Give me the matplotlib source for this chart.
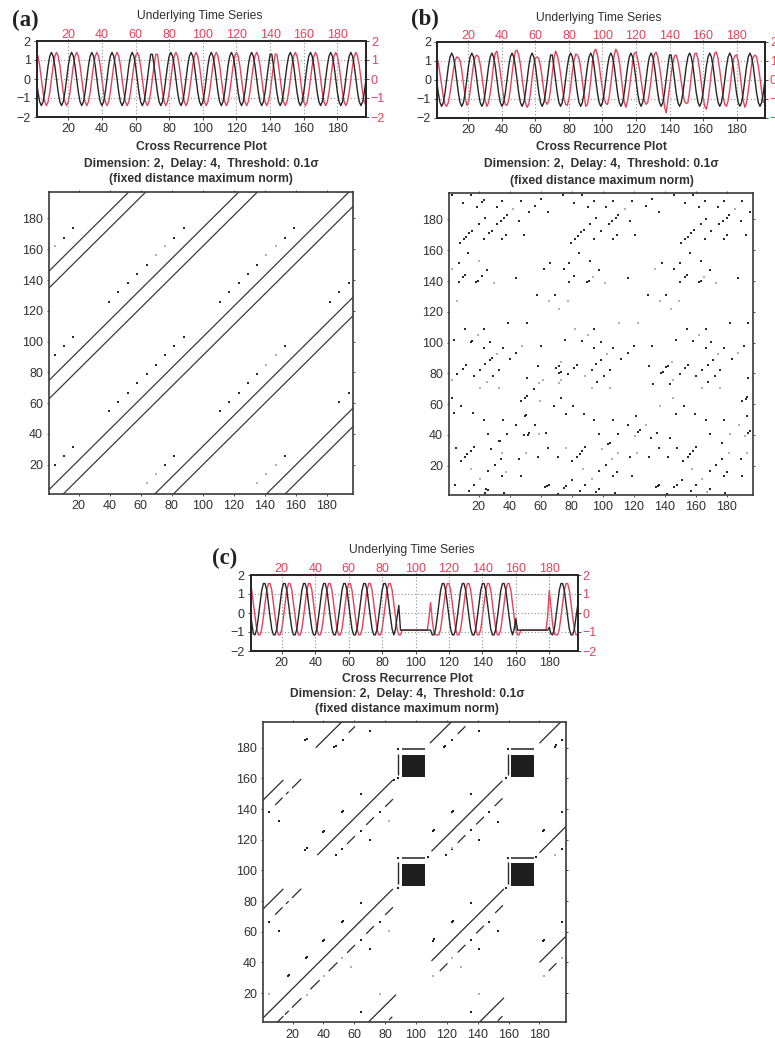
import matplotlib
matplotlib.use("Agg")
import matplotlib.pyplot as plt
import numpy as np

plt.rcParams['font.family'] = ['Liberation Sans', 'DejaVu Sans']

W, H = 775, 1038
TXT = '#303030'
RED = '#e8405a'
DARK = '#2a2a2a'
LIGHT = '#b0b0b0'

# ---------------- time series ----------------
black_ab = [0,-.7,-1.2,
 -1.4,-1.2,-.7,0,.7,1.2,1.4,1.2,.7,0,-.7,-1.2,
 -1.4,-1.2,-.7,0,.7,1.2,1.4,1.2,.7,0,-.7,-1.2,
 -1.4,-1.2,-.7,0,.7,1.2,1.4,1.2,.7,0,-.7,-1.2,
 -1.4,-1.2,-.7,0,.7,1.2,1.4,1.2,.7,0,-.7,-1.2,
 -1.4,-1.2,-.7,0,.7,1.2,1.4,1.2,.7,0,-.7,-1.2,
 -1.4,-1.2,-.7,0,.7,1.3,1.3,.7,0,-.7,-1.2,
 -1.4,-1.2,-.7,0,.7,1.2,1.4,1.2,.7,0,-.7,-1.2,
 -1.4,-1.2,-.7,0,.7,1.2,1.4,1.2,.7,0,-.7,-1.2,
 -1.4,-1.2,-.7,0,.7,1.2,1.4,1.2,.7,0,-.7,-1.2,
 -1.4,-1.2,-.7,0,.7,1.2,1.4,1.2,.7,0,-.7,-1.2,
 -1.4,-1.2,-.7,0,.7,1.2,1.4,1.2,.7,0,-.7,-1.2,
 -1.4,-1.2,-.7,0,.7,1.3,1.3,.7,0,-.7,-1.2,
 -1.4,-1.2,-.7,0,.7,1.2,1.4,1.2,.7,0,-.7,-1.2,
 -1.4,-1.2,-.7,0,.7,1.2,1.4,1.2,.7,0,-.7,-1.2,
 -1.4,-1.2,-.7,0,.7,1.2,1.4,1.2,.7,0,-.7,-1.2,
 -1.4,-1.2,-.7,0,.7,1.2,1.4,1.2,.7,0,-.7,-1.2,
 -1.4,-1.2,-.7,0]

red_a = [1.4,1.2,.7,0,-.7,-1.2,
 -1.4,-1.2,-.7,0,.7,1.2,1.4,1.2,.7,0,-.7,-1.2,
 -1.4,-1.2,-.7,0,.7,1.2,1.4,1.2,.7,0,-.7,-1.2,
 -1.4,-1.2,-.7,0,.7,1.2,1.4,1.2,.7,0,-.7,-1.2,
 -1.4,-1.2,-.7,0,.7,1.2,1.4,1.2,.7,0,-.7,-1.2,
 -1.4,-1.2,-.7,0,.7,1.2,1.4,1.2,.7,0,-.7,-1.2,
 -1.4,-1.2,-.7,0,.7,1.3,1.3,.7,0,-.7,-1.2,
 -1.4,-1.2,-.7,0,.7,1.2,1.4,1.2,.7,0,-.7,-1.2,
 -1.4,-1.2,-.7,0,.7,1.2,1.4,1.2,.7,0,-.7,-1.2,
 -1.4,-1.2,-.7,0,.7,1.2,1.4,1.2,.7,0,-.7,-1.2,
 -1.4,-1.2,-.7,0,.7,1.2,1.4,1.2,.7,0,-.7,-1.2,
 -1.4,-1.2,-.7,0,.7,1.2,1.4,1.2,.7,0,-.7,-1.2,
 -1.4,-1.2,-.7,0,.7,1.3,1.3,.7,0,-.7,-1.2,
 -1.4,-1.2,-.7,0,.7,1.2,1.4,1.2,.7,0,-.7,-1.2,
 -1.4,-1.2,-.7,0,.7,1.2,1.4,1.2,.7,0,-.7,-1.2,
 -1.4,-1.2,-.7,0,.7,1.2,1.4,1.2,.7,0,-.7,-1.2,
 -1.4,-1.2,-.7,0,.7,1.2,1.4,1.2,.7,0,-.7,-1.2,
 -1.4]

red_b = [1.2,.9,.3,-.3,-.9,-1.3,-1.4,-1.2,-.7,-.1,.5,1.0,1.2,1.15,1.0,.5,-.2,-.9,-1.35,-1.2,
 -.6,.1,.8,1.2,1.3,1.2,.8,.2,-.5,-1.1,-1.4,-1.2,-.7,0,.8,1.4,1.5,1.0,.4,-.3,
 -.9,-1.3,-1.35,-1.1,-.5,.3,1.0,1.5,1.55,1.3,.8,.1,-.6,-1.2,-1.45,-1.3,-.7,.1,.8,1.15,
 1.2,1.1,.7,.1,-.6,-1.15,-1.3,-1.1,-.5,.3,1.1,1.5,1.3,.9,.3,-.4,-1.0,-1.3,-1.35,-1.0,
 -.4,.4,1.0,1.35,1.3,1.1,.6,-.1,-.8,-1.4,-1.3,-.8,0,.9,1.5,1.6,1.3,.8,.1,-.5,
 -1.0,-1.25,-1.3,-.9,-.2,.6,1.3,1.6,1.4,1.0,.3,-.5,-1.2,-1.45,-1.1,-.5,.2,.9,1.4,1.45,
 1.1,.6,0,-.6,-1.1,-1.3,-1.2,-.7,0,.8,1.35,1.45,1.2,.7,.1,-.7,-1.4,-1.75,-1.1,-.4,
 .3,.9,1.25,1.3,1.0,.5,-.1,-.7,-1.15,-1.25,-1.2,-.6,.2,.9,1.35,1.4,1.1,.5,-.2,-.9,
 -1.4,-1.55,-1.1,-.4,.4,1.0,1.4,1.45,1.1,.5,-.2,-.9,-1.3,-1.4,-1.1,-.5,.3,1.0,1.25,1.3,
 1.0,.4,-.4,-1.1,-1.45,-1.2,-.6,.1,.8,1.2,1.3,1.2,.7,.1,-.6,-1.2,-1.0]

black_c = [.3,-.5,-1.1,
 -1.15,-.85,-.2,.5,1.2,1.55,1.55,1.2,.5,-.2,-.85,-1.15,
 -1.15,-.85,-.2,.5,1.2,1.55,1.55,1.2,.5,-.2,-.85,-1.15,
 -1.15,-.85,-.2,.5,1.2,1.55,1.55,1.2,.5,-.2,-.85,-1.15,
 -1.15,-.85,-.2,.5,1.2,1.55,1.55,1.2,.5,-.2,-.85,-1.15,
 -1.15,-.85,-.2,.5,1.2,1.55,1.55,1.2,.5,-.2,-.85,-1.15,
 -1.15,-.85,-.2,.5,1.2,1.55,1.55,1.2,.5,-.2,-.85,-1.15,
 -1.15,-.85,-.2,.5,1.2,1.55,1.55,1.2,.5,-.2,-.85,-1.15,
 -.85,-.2,.4,-.9,
 -.9,-.9,-.9,-.9,-.9,-.9,-.9,-.9,-.9,-.9,-.9,-.9,-.9,-.9,-.9,-.9,-.9,-.9,
 -1.15,
 -1.15,-.85,-.2,.5,1.2,1.55,1.55,1.2,.5,-.2,-.85,-1.15,
 -1.15,-.85,-.2,.5,1.2,1.55,1.55,1.2,.5,-.2,-.85,-1.15,
 -1.15,-.85,-.2,.5,1.2,1.55,1.55,1.2,.5,-.2,-.85,-1.15,
 -1.15,-.85,-.2,.5,1.2,1.55,1.55,1.2,.5,-.2,-.85,-1.15,
 -.85,-.3,-.9,
 -.9,-.9,-.9,-.9,-.9,-.9,-.9,-.9,-.9,-.9,-.9,-.9,-.9,-.9,-.9,-.9,-.9,
 -.9,-.75,-1.1,
 -1.15,-.85,-.2,.5,1.2,1.55,1.55,1.2,.5,-.2,-.85,-1.15,
 -1.15,-.85,-.2,.4]

red_c = [1.55,1.2,.5,-.2,-.85,-1.15,
 -1.15,-.85,-.2,.5,1.2,1.55,1.55,1.2,.5,-.2,-.85,-1.15,
 -1.15,-.85,-.2,.5,1.2,1.55,1.55,1.2,.5,-.2,-.85,-1.15,
 -1.15,-.85,-.2,.5,1.2,1.55,1.55,1.2,.5,-.2,-.85,-1.15,
 -1.15,-.85,-.2,.5,1.2,1.55,1.55,1.2,.5,-.2,-.85,-1.15,
 -1.15,-.85,-.2,.5,1.2,1.55,1.55,1.2,.5,-.2,-.85,-1.15,
 -1.15,-.85,-.2,.5,1.2,1.55,1.55,1.2,.5,-.2,-.85,-1.15,
 -1.15,-.85,-.2,.5,1.2,1.55,1.55,1.2,.5,-.2,-.85,-1.15,
 -1.15,
 -.9,-.9,-.9,-.9,-.9,-.9,-.9,-.9,-.9,-.9,-.9,-.9,-.9,-.9,-.9,-.9,
 -.3,.55,-.4,-1.0,-1.15,-1.15,
 -1.15,-.85,-.2,.5,1.2,1.55,1.55,1.2,.5,-.2,-.85,-1.15,
 -1.15,-.85,-.2,.5,1.2,1.55,1.55,1.2,.5,-.2,-.85,-1.15,
 -1.15,-.85,-.2,.5,1.2,1.55,1.55,1.2,.5,-.2,-.85,-1.15,
 -1.15,-.85,-.2,.5,1.2,1.55,1.55,1.2,.5,-.2,-.85,-1.15,
 -1.15,
 -.9,-.9,-.9,-.9,-.9,-.9,-.9,-.9,-.9,-.9,-.9,-.9,-.9,-.9,-.9,-.9,
 -.2,1.2,.3,-.6,-1.1,-1.15,
 -1.15,-.85,-.2,.5,1.2,1.55,1.55,1.2,.5,-.2,-.85,-1.15,
 -1.15]

time_index = list(range(1, 198))
x_ticks = [20, 40, 60, 80, 100, 120, 140, 160, 180]
ts_y_ticks = [-2, -1, 0, 1, 2]

# ---------------- recurrence plot (a) ----------------
a_offsets = [145, 134, 74, 62, 3, -9, -68, -80, -140, -152]
a_dots = [(10.5,167.6),(16.6,173.7),(39.6,126),(45.6,132),(51.6,138),(57.6,144),(63.7,150),
 (81.7,167.6),(87.7,173.7),(111,126),(117,132),(123,138),(129,144),(135,150),(153,167.6),(159,173.7),
 (182,126),(188,132),(194,138),(4.5,91),(10.5,97),(16.6,103),(39.6,54.7),(45.6,60.7),(51.6,66.8),
 (57.6,72.8),(63.7,78.8),(69.7,84.9),(75.7,91),(81.7,97),(87.7,103),(111,54.7),(117,60.7),(123,66.8),
 (129,72.8),(135,78.8),(153,97),(188,60.7),(194,66.8),(4.5,20),(10.5,25.6),(16.6,31.6),(75.7,20),
 (81.7,25.6),(153,25.6)]
a_faint = [(4.5,162),(69.7,156),(75.7,162),(141,156),(147,162),(141,84.9),(147,91),(63.7,8),(69.7,14),
 (135,8),(141,14),(147,20)]

# ---------------- recurrence plot (b) ----------------
b_dots = [(9.8,191),(19.1,188.2),(22.2,191.4),(23.2,192.5),(31.5,188.2),(35.2,192),(47.3,192),(52.5,185),
 (56.5,189),(60,193),(64.6,185),(81.7,191),(90.6,188),(94.3,192),(102.3,188),(106.6,192),(114,187),
 (118.8,192),(127.8,189),(132,193),(136,185),(153,191),(162,188),(165.7,192),(174,188),(178,192),
 (185,187),(190,192),(195,185),
 (8.1,165),(10.3,167.2),(11.8,168.6),(14,171),(15.7,172.7),(20,177),(24.3,181),(23.2,167),(26.8,171.5),
 (28.3,172.5),(32,177),(34.3,178.8),(36.5,181),(38,183),(35.2,167.6),(37.3,170),(46.2,179),(49.2,170),
 (79.7,165),(82.3,167.6),(84,169.3),(86.2,172),(87.7,173),(91.7,177),(95.8,181),(94.3,167.6),(98.6,172.5),
 (104,177),(106,179),(108.3,181),(109.8,183),(106.6,167.6),(108.8,170),(117.6,179),(120.9,170),
 (150.5,164.4),(152.7,167),(154.8,168.7),(157,171.3),(158.7,173),(163,177),(166.7,180.5),(165.7,167.6),
 (170,172.5),(175,177),(177.6,179),(180,181),(181.2,183),(178,167.6),(180.2,170),(188.9,179),(192.3,170),
 (7,152),(13,158),(7,139.5),(10,142.5),(10.8,143.7),(25.6,147),(21.8,143),(18.5,139.3),(19.6,140),(44,142),
 (57.5,131),(69.3,131),(62.2,148),(66,152),(74.8,148),(78.2,152),(84.5,158),(91.7,153),(78,139.5),
 (81.7,143),(90,139.3),(91,140),(97.5,147),(116,142),(129,131),(141,131),(138,152),(145.7,148),(150,152),
 (156,158),(163,153),(150,139.5),(153,142.7),(154,143.7),(162,139.3),(163,140),(169,147),(187,142),
 (39,112.5),(51.4,112.5),(11,108.8),(23.2,108.8),(4,101.6),(14.8,100.3),(15.7,101),(23.2,96.6),(27.2,100.5),
 (35.5,96.6),(44,93.4),(40,89.5),(60,98),(6,79.9),(9.8,83),(12,85.3),(17,78.6),(20.6,82),(24.3,85.8),
 (27.2,88.7),(28.3,89.8),(29.3,78.4),(33,82),(51,77),(55.3,69.6),(50,64),(51,65),(47.3,62),(58.5,84.7),
 (72,80),(73,81),(70,83.5),(71.5,84.7),(77.4,79.5),(81.7,83.6),(83.4,85.7),(92.7,82),(95.7,85.8),(99,88.7),
 (96.4,74.6),(100.7,78.4),(104.7,82),(75.8,101.6),(94.3,108.8),(86.7,101),(94.3,96.6),(98.6,100.5),
 (106.6,96.6),(116,93.4),(111.6,89.5),(119.8,98),(132,98),(130,84.7),(132.2,73.4),(137.5,80),(138.6,81),
 (140.8,84),(142,85),(143,73.4),(149.5,79.5),(153,83.2),(155.2,85.7),(160,78.4),(164.2,82),(167.8,85.7),
 (170.7,89),(167.8,74.6),(172.2,78.4),(175.8,82),(146.9,101.6),(154.2,108.8),(166.3,108.8),(158,101),
 (166.3,96.6),(170,100.5),(178,96.6),(183,89.5),(182,112.5),(193.8,112.5),(191,98),(193.8,77.3),
 (2.7,63.7),(4,54),(8.7,58.7),(16,54),(23.2,50),(35.5,50),(44,46.4),(56.5,46.4),(49.5,52.2),(50.5,52.8),
 (52.5,41),(51.5,40.2),(49,40),(26,40.6),(38,40.6),(63.5,41.6),(73.3,63.7),(68.3,58.7),(80.6,58.7),
 (76,53.6),(87.7,53.6),(94.3,50),(106.6,50),(97.5,40.6),(103.5,34.2),(104.4,34.8),(116,46.4),(121.3,52.2),
 (109.8,40.6),(122.6,41.8),(124,43),(131,37.8),(134.7,41.6),(152,58.7),(146.9,53.6),(159.6,53.6),
 (166.3,50),(178,50),(169,40.6),(176.5,34.8),(193,52),(192,63.5),(193,64.6),(189.5,62),(143,37.8),
 (193.5,41.5),(194.7,42.5),
 (5,31.8),(8.3,23),(10.9,25.8),(12.6,27.6),(14.9,29.7),(17,31.9),(27.8,30.6),(34.3,24.3),(32.8,35.8),
 (33.6,36.4),(30.4,20.4),(26,16.8),(35.2,13.5),(4.9,7.4),(17,7.4),(13.5,3.8),(24.6,4.6),(26,4.2),(24,2.5),
 (36.2,2.5),(46.2,24.3),(47.3,13.5),(58.5,25.8),(64.6,31.8),(70.8,25.8),(80.2,23),(83.4,25.8),(85,27.6),
 (86.7,29.7),(88.5,31.9),(97.5,16.8),(101.8,20.4),(106.6,13.5),(109,15.7),(117.6,25.8),(118.8,13.5),
 (130,25.8),(136,31.8),(142,25.8),(148,31.8),(151.6,23),(155,25.8),(156.4,27.6),(158,29.7),(160,31.9),
 (169,16.8),(172.8,20.4),(177,24.3),(178,13.5),(180,15.7),(189,24.3),(190,13.5),
 (63,6),(64,6.8),(65,7.6),(75,5.4),(76.5,6.8),(80,10.7),(85.3,3.7),(88.8,7.4),(95.4,2.7),(97.5,4.6),(70.8,1.6),
 (107.6,2.5),(134.5,6),(135.3,6.8),(136,7.6),(146,5.9),(147.7,7.3),(151.1,10.7),(156.6,3.8),(160.3,7.4),
 (169,4.6),(179,2.5),(141.2,1.6),(3,196),(15,196),(74.6,196),(86.6,196),(146,196),(158,196)]
b_faint = [(42.3,187),(114,187),(185,187),(2.7,148),(20,153),(30,139),(6,127),(65.5,127),(77.4,127),(72,121.7),
 (93.6,142.7),(101.4,139),(137,127),(149,127),(144,121.7),(133.8,148),(165,142.7),(172.8,139),
 (19.2,104.7),(31.5,92.5),(48,98),(25,74.6),(21,70.6),(33,70.6),(2.7,75.6),(61.3,75.6),(59,74),(73,87.5),
 (71.5,74),(73,75.6),(88.4,78.4),(92.7,70.6),(104.8,70.6),(82.3,108.8),(90.6,104.8),(102.5,92.5),
 (110.6,112.5),(122.8,112.5),(145,75.6),(144.7,87.5),(164.2,70.6),(175.8,70.6),(162,104.8),(174,92.5),
 (187,93.4),(59,40.5),(59.6,62),(127.8,46.4),(120.7,39.5),(136.9,58.7),(145,63.7),(182,40.6),(187.5,46.4),
 (191.7,39.5),(35.2,28.4),(37.3,15.7),(14.8,17.6),(20.6,11.3),(50.3,28.4),(76.5,31.8),(99.6,30.6),
 (87.2,17.6),(105.7,24.3),(109.8,28.4),(122,28.4),(157.7,17.6),(164,11.3),(181.5,28.4),(193,28.4),
 (93.2,11.3),(167.2,3.1)]

# ---------------- recurrence plot (c) ----------------
c_seg_offset = [3, 74, 145, 74, 145, -68, -69, 2.5, 74, -140, 3, -68.5, -140,
 -9, -9, -9, -9, -9, -9, -9, -9, 62.5, 62.5, 62.5, 134, 134, 134, 133.5, 62, 62, 61.5,
 -81, -80.5, -80, -79, -9, -9, -9, 62, -151.5, -80, -151]
c_seg_start = [1, 36, 1, 1, 35, 69, 110, 110, 109, 141, 180, 180, 180,
 10, 15, 19.6, 31.5, 43.4, 55.3, 67.7, 80, 8.7, 15.7, 19.6, 8.7, 15.7, 19.6, 56.4, 55.3, 67.7, 80,
 115.4, 127, 139, 151.3, 127, 139, 151, 127, 186, 82.5, 153]
c_seg_end = [85, 85, 14, 14, 52, 87, 157, 156, 124, 157, 197, 197, 197,
 14, 17.5, 25.7, 37.5, 49, 60.4, 72.7, 85, 13.5, 17.4, 25.6, 13.5, 17.4, 25.6, 60.4, 60.4, 72.7, 85,
 120.4, 132, 144, 156.3, 132, 144, 156, 132, 191, 84.6, 156]
c_dots = [(16.7,31.3),(17.5,32),(29.3,43.4),(28.6,42.8),(40.6,54.7),(40,54),(52.5,67.3),(52,66.6),(64,79),(64,54.7),(70,48.6),
 (76.4,66.7),(5,66.7),(11,60.7),(64,7.6),(5,138),(11,132),(29,186),(28.2,185.2),(52.5,185),(47,180.5),(48,181.3),(70,191),
 (29,114.4),(28.2,113.6),(40.6,126),(40,125.4),(52.5,138.7),(51.8,138),(64,150),(64,126),(70,120),(48.4,110),(52,114),(76.4,138.3),
 (111.7,55),(111,54.3),(123.7,67.3),(123,66.6),(135.6,79),(147.5,66.7),(153.4,60.8),(135.6,54.7),(141,48.6),
 (111.7,126.4),(111,125.7),(123.7,138.7),(123,138),(135.6,150),(147.5,138),(153.4,131.7),(135.6,126.4),(141,120),
 (119.7,110),(123,114),(118.3,180.6),(119,181.3),(123,185),(141,191),(182.7,126.4),(182,125.7),(194.6,138),(194.6,113.8),
 (194.6,185),(190,180.8),(190.7,181.5),(182.7,54.7),(182,54),(194.6,66.7),(135.6,7.6),
 (88,88.5),(88,160.5),(85.5,159),(158.5,160),(158.5,88.5),(88,179),(159.5,179),(88,108.3),(159.5,108.3),(108,108.5),(178,108.5)]
c_faint = [(5,19.3),(29,19),(40.6,31),(52,43),(58,37),(82.5,60.8),(76.4,19.3),(82.5,132),(111,31),(123,43),(129,37),
 (182.7,31),(194.6,43),(141,19.3),(190,110),(123,114.5)]

square_x = [91, 161.6, 91, 161.6]
square_y = [161, 161, 90, 90]
square_side = [14.5, 14.6, 14.5, 14.6]
c_vbar_x = [88.4, 159.5, 88.4, 159.5]
c_vbar_y0 = [162, 162, 91, 91]
c_vbar_y1 = [176, 176, 105.5, 105.5]
c_hbar_x0 = [91, 161.6, 91, 161.6]
c_hbar_x1 = [105.6, 176.2, 105.6, 176.2]
c_hbar_y = [179, 179, 108.3, 108.3]


def ax_px(x0, y0, x1, y1):
    return fig.add_axes([x0 / W, 1 - y1 / H, (x1 - x0) / W, (y1 - y0) / H])


def draw_ts(box, black, red, cx_title, y_title):
    ax = ax_px(*box)
    ax.plot(time_index, black, color='#262626', lw=1.0, zorder=3)
    ax.set_xlim(1.4, 197)
    ax.set_ylim(-2, 2)
    ax.set_xticks(x_ticks)
    ax.set_yticks(ts_y_ticks)
    ax.set_yticklabels(['\u22122', '\u22121', '0', '1', '2'])
    ax.grid(True, ls=(0, (1, 2)), color='#8f8f8f', lw=0.8)
    ax.tick_params(labelsize=9, length=2, width=0.6, pad=2.5, labelcolor=TXT, color=TXT)
    ax2 = ax.twinx()
    ax3 = ax2.twiny()
    ax3.plot(time_index, red, color=RED, lw=1.0, zorder=2)
    ax3.set_xlim(1.4, 197)
    ax3.set_ylim(-2, 2)
    ax3.set_xticks(x_ticks)
    ax3.tick_params(labelsize=9, length=1.5, width=0.6, pad=-1.5, labelcolor=RED, color=TXT)
    ax2.set_ylim(-2, 2)
    ax2.set_yticks(ts_y_ticks)
    ax2.set_yticklabels(['\u22122', '\u22121', '0', '1', '2'])
    ax2.tick_params(labelsize=9, length=2, width=0.6, pad=1.5, labelcolor=RED, color=TXT)
    ax.set_zorder(5)
    ax.patch.set_visible(False)
    for a in (ax, ax2, ax3):
        for s in a.spines.values():
            s.set_linewidth(1.2)
            s.set_color('#262626')
    fig.text(cx_title / W, 1 - y_title / H, 'Underlying Time Series', ha='center', va='center',
             fontsize=8.7, color=TXT)


def draw_titles(cx, y1, y2, y3):
    fig.text(cx / W, 1 - y1 / H, 'Cross Recurrence Plot', ha='center', va='center',
             fontsize=8.7, fontweight='bold', color=TXT)
    fig.text(cx / W, 1 - y2 / H, 'Dimension: 2,  Delay: 4,  Threshold: 0.1\u03c3', ha='center', va='center',
             fontsize=8.7, fontweight='bold', color=TXT)
    fig.text(cx / W, 1 - y3 / H, '(fixed distance maximum norm)', ha='center', va='center',
             fontsize=8.7, fontweight='bold', color=TXT)


def crp_axes(box):
    ax = ax_px(*box)
    ax.set_xlim(1, 197)
    ax.set_ylim(1, 197)
    ax.set_xticks(x_ticks)
    ax.set_yticks(x_ticks)
    ax.tick_params(labelsize=9, length=1.5, width=0.6, pad=3, labelcolor=TXT, color=TXT,
                   top=True, right=True)
    for s in ax.spines.values():
        s.set_linewidth(1.2)
        s.set_color('#3a3a3a')
    return ax


def draw_dots(ax, dots, color, ms=1.5):
    ax.plot([p[0] for p in dots], [p[1] for p in dots], ls='none', marker='s', ms=ms,
            mew=0, color=color, zorder=2)


fig = plt.figure(figsize=(W / 100, H / 100), dpi=100)

# (a)
draw_ts((37, 41, 366, 117), black_ab, red_a, 199.5, 16)
draw_titles(201, 147, 164, 179)
ax = crp_axes((49.3, 192.3, 353.3, 494))
for k in a_offsets:
    ax.plot([1, 197], [1 + k, 197 + k], color='#3a3a3a', lw=0.9)
draw_dots(ax, a_dots, DARK)
draw_dots(ax, a_faint, LIGHT)

# (b)
draw_ts((437.3, 41.7, 765, 117.7), black_ab, red_b, 599, 18)
draw_titles(601.7, 147, 164, 181)
ax = crp_axes((449.3, 193.3, 753.3, 495))
draw_dots(ax, b_dots, DARK, ms=1.9)
draw_dots(ax, b_faint, LIGHT, ms=1.7)

# (c)
draw_ts((250.7, 575, 577.7, 651), black_c, red_c, 412, 550)
draw_titles(407, 679, 694, 709)
ax = crp_axes((263.3, 721.7, 565.7, 1022.3))
for k, s, e in zip(c_seg_offset, c_seg_start, c_seg_end):
    ax.plot([s, e], [s + k, e + k], color='#2a2a2a', lw=0.9, solid_capstyle='butt')
draw_dots(ax, c_dots, '#222222', ms=1.7)
draw_dots(ax, c_faint, LIGHT, ms=1.6)
ax.bar(square_x, square_side, width=square_side, bottom=square_y, align='edge', color='#1f1f1f', lw=0)
ax.vlines(c_vbar_x, c_vbar_y0, c_vbar_y1, color='#2a2a2a', lw=1.0)
ax.hlines(c_hbar_y, c_hbar_x0, c_hbar_x1, color='#444444', lw=1.3)

# panel labels
for txt, px, py in [('(a)', 12, 20), ('(b)', 411, 19), ('(c)', 212, 558)]:
    fig.text(px / W, 1 - py / H, txt, ha='left', va='center', fontsize=16.5, fontweight='bold',
             family=['Liberation Serif', 'DejaVu Serif'], color='#222222')

fig.savefig('out.png', dpi=100)
